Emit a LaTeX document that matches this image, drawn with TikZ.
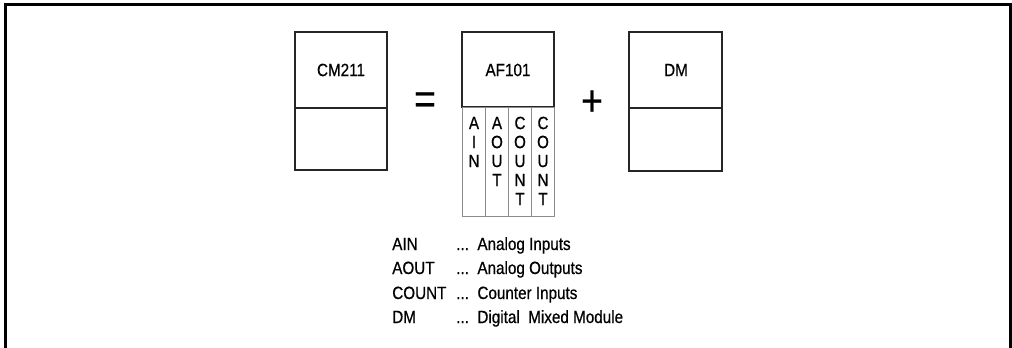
\documentclass[tikz,border=0pt]{standalone}
\usepackage{fontspec}
\setmainfont{Liberation Sans}[FakeStretch=0.86,FakeBold=0.6]
\begin{document}
\begin{tikzpicture}[x=0.025cm, y=-0.025cm,
    frame/.style={line width=1.8pt},
    modbox/.style={draw=black!85, line width=0.8pt},
    slot/.style={draw=black!45, line width=0.5pt},
    txt/.style={font=\fontsize{12.6}{14}\selectfont, inner sep=0pt},
    sign/.style={font=\fontsize{31}{33}\selectfont, inner sep=0pt}]
  \useasboundingbox (0,0) rectangle (1012,348);
  % frame, open at the bottom
  \draw[frame] (5.5,348) -- (5.5,4.5) -- (1010.5,4.5) -- (1010.5,348);
  % CM211
  \draw[modbox] (295,32) rectangle (387,170);
  \draw[modbox] (295,108) -- (387,108);
  \node[txt] (cm) at (341,70) {CM211};
  \node[sign] (eq) at (425,103) {=};
  % AF101 with its slots
  \draw[modbox] (462,32) rectangle (554,107);
  \node[txt] (af) at (508,70) {AF101};
  \draw[slot] (462,107) rectangle (554,216);
  \foreach \x in {485.5,508,531.5}
    \draw[slot] (\x,107) -- (\x,216);
  \foreach \ch [count=\i from 0] in {A,I,N}
    \node[txt] (ain\i) at (474,123+19*\i) {\ch};
  \foreach \ch [count=\i from 0] in {A,O,U,T}
    \node[txt] (aout\i) at (497,123+19*\i) {\ch};
  \foreach \ch [count=\i from 0] in {C,O,U,N,T}
    \node[txt] (cnta\i) at (520,123+19*\i) {\ch};
  \foreach \ch [count=\i from 0] in {C,O,U,N,T}
    \node[txt] (cntb\i) at (543,123+19*\i) {\ch};
  \node[sign] (plus) at (592,103) {+};
  % DM
  \draw[modbox] (629,32) rectangle (722,171);
  \draw[modbox] (629,108) -- (722,108);
  \node[txt] (dm) at (676,70) {DM};
  % legend
  \node[txt, anchor=base west] (kain) at (392,250) {AIN};
  \node[txt, anchor=base west] (kaout) at (392,274) {AOUT};
  \node[txt, anchor=base west] (kcnt) at (392,299) {COUNT};
  \node[txt, anchor=base west] (kdm) at (392,323) {DM};
  \node[txt, anchor=base west] (dain) at (456,250) {...\ \ Analog Inputs};
  \node[txt, anchor=base west] (daout) at (456,274) {...\ \ Analog Outputs};
  \node[txt, anchor=base west] (dcnt) at (456,299) {...\ \ Counter Inputs};
  \node[txt, anchor=base west] (ddm) at (456,323) {...\ \ Digital~~Mixed Module};
\end{tikzpicture}
\end{document}
